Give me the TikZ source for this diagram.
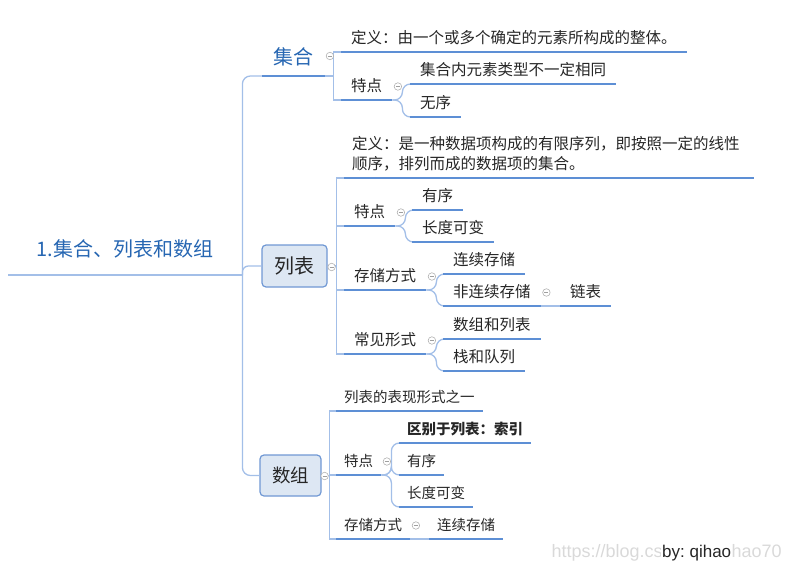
\documentclass[tikz,border=0pt]{standalone}
\usepackage{fontspec}
\setmainfont{Noto Sans CJK SC}
\newfontfamily\latin{Liberation Sans}
\usepackage{tikz}
\usetikzlibrary{positioning,calc}
\definecolor{ulblue}{RGB}{93,143,213}
\definecolor{cnblue}{RGB}{163,191,232}
\definecolor{rootblue}{RGB}{38,102,178}
\definecolor{boxfill}{RGB}{221,231,243}
\definecolor{boxline}{RGB}{112,152,212}
\definecolor{txt}{RGB}{38,38,38}

\begin{document}
\begin{tikzpicture}[x=1pt,y=-1pt,
  topic/.style={anchor=south west,inner xsep=10pt,inner ysep=0pt,text height=12pt,text depth=8.1pt,font=\fontsize{15.5}{20}\selectfont,text=txt},
  small/.style={topic,inner xsep=8pt,text depth=8.5pt,font=\fontsize{14.5}{19}\selectfont},
  head/.style={anchor=south west,inner sep=0pt,text height=15pt,font=\fontsize{20}{24}\selectfont,text=rootblue},
  box/.style={draw=boxline,fill=boxfill,rounded corners=4pt,line width=1.2pt,inner sep=0pt,font=\fontsize{20}{24}\selectfont,text=txt},
  ul/.style={draw=ulblue,line width=2.2pt},
  cn/.style={draw=cnblue,line width=1.3pt},
  brace/.style={cn,rounded corners=8pt},
  fold/.style={circle,draw=gray!60,fill=white,line width=0.6pt,minimum size=7.5pt,inner sep=0pt,
    path picture={\draw[gray!75,line width=0.5pt] ([xshift=-2pt]path picture bounding box.center) -- ([xshift=2pt]path picture bounding box.center);}}]
\useasboundingbox (0,0) rectangle (792,570);

% main topic and the three branches
\node[head,minimum width=234pt,text depth=18.4pt] (root) at (8,275) {1.集合、列表和数组};
\node[head,minimum width=63pt,text depth=11.4pt] (jihe) at (262,76) {集合};
\node[box,minimum width=65pt,minimum height=42pt] (liebiao) at (294.5,266) {列表};
\node[box,minimum width=61pt,minimum height=41pt,font=\fontsize{18.5}{22}\selectfont] (shuzu) at (290.5,475.5) {数组};

% 集合
\node[topic] (jh-def) at (341,52) {定义：由一个或多个确定的元素所构成的整体。};
\node[topic] (jh-td) at (341,100) {特点};
\node[topic] (jh-td1) at (410,84) {集合内元素类型不一定相同};
\node[topic] (jh-td2) at (410,117) {无序};

% 列表
\node[topic,inner xsep=8pt] (lb-def) at (344,178) {\parbox[b]{394pt}{定义：是一种数据项构成的有限序列，即按照一定的线性\\顺序，排列而成的数据项的集合。}};
\node[topic] (lb-td) at (344,226) {特点};
\node[topic] (lb-td1) at (412,210) {有序};
\node[topic] (lb-td2) at (412,242) {长度可变};
\node[topic] (lb-cc) at (344,290) {存储方式};
\node[topic] (lb-cc1) at (443,274) {连续存储};
\node[topic] (lb-cc2) at (443,306) {非连续存储};
\node[topic] (lb-lianbiao) at (560,306) {链表};
\node[topic] (lb-xs) at (344,354) {常见形式};
\node[topic] (lb-xs1) at (443,339) {数组和列表};
\node[topic] (lb-xs2) at (443,371) {栈和队列};

% 数组
\node[small] (sz-def) at (336,411) {列表的表现形式之一};
\node[small] (sz-td) at (336,475) {特点};
\node[small,font=\fontsize{14.5}{19}\selectfont\bfseries] (sz-td1) at (399,443) {区别于列表：索引};
\node[small] (sz-td2) at (399,475) {有序};
\node[small] (sz-td3) at (399,507) {长度可变};
\node[small] (sz-cc) at (336,539) {存储方式};
\node[small] (sz-cc1) at (429,539) {连续存储};

% connectors
\draw[cn] (root.south west) -- (root.south east);
\draw[cn,rounded corners=8pt] (root.south east) |- (jihe.south west);
\draw[cn,rounded corners=6pt] (root.south east) |- (liebiao.west);
\draw[cn,rounded corners=8pt] (root.south east) |- (shuzu.west);
\foreach \c in {jh-def,jh-td} \draw[cn] (jihe.south east) -- ++(8,0) |- (\c.south west);
\foreach \c in {lb-def,lb-td,lb-cc,lb-xs} \draw[cn] (liebiao.east) -- ++(9,0) |- (\c.south west);
\foreach \c in {sz-def,sz-td,sz-cc} \draw[cn] (shuzu.east) -- ++(8,0) |- (\c.south west);
\foreach \p/\c in {jh-td/jh-td1,jh-td/jh-td2,lb-td/lb-td1,lb-td/lb-td2,lb-cc/lb-cc1,lb-cc/lb-cc2,
  lb-xs/lb-xs1,lb-xs/lb-xs2,sz-td/sz-td1,sz-td/sz-td2,sz-td/sz-td3}
  \draw[brace] (\p.south east) -- ++(10,0) |- (\c.south west);
\draw[cn] (lb-cc2.south east) -- (lb-lianbiao.south west);
\draw[cn] (sz-cc.south east) -- (sz-cc1.south west);

% underlines
\foreach \n in {jihe,jh-def,jh-td,jh-td1,jh-td2,lb-def,lb-td,lb-td1,lb-td2,lb-cc,lb-cc1,lb-cc2,lb-lianbiao,
  lb-xs,lb-xs1,lb-xs2,sz-def,sz-td,sz-td1,sz-td2,sz-td3,sz-cc,sz-cc1}
  \draw[ul] (\n.south west) -- (\n.south east);

% collapse marks
\node[fold] (f-jihe) at ($(jihe.south east)+(4.5,-20)$) {};
\node[fold] (f-liebiao) at ($(liebiao.east)+(4,1)$) {};
\node[fold] (f-shuzu) at ($(shuzu.east)+(3,0.5)$) {};
\foreach \n in {jh-td,lb-td,lb-cc,lb-cc2,lb-xs,sz-td,sz-cc}
  \node[fold] (f-\n) at ($(\n.south east)+(5.5,-13.5)$) {};

\node[anchor=west,font=\latin\fontsize{18}{20}\selectfont,text=gray!30] (mark) at (548,553) {https://blog.csdn.net/qihao70};
\node[anchor=west,fill=white,inner xsep=1pt,inner ysep=1pt,font=\latin\fontsize{17}{19}\selectfont,text=black!85] (sign) at (661,553) {by:\ qihao};
\end{tikzpicture}
\end{document}
